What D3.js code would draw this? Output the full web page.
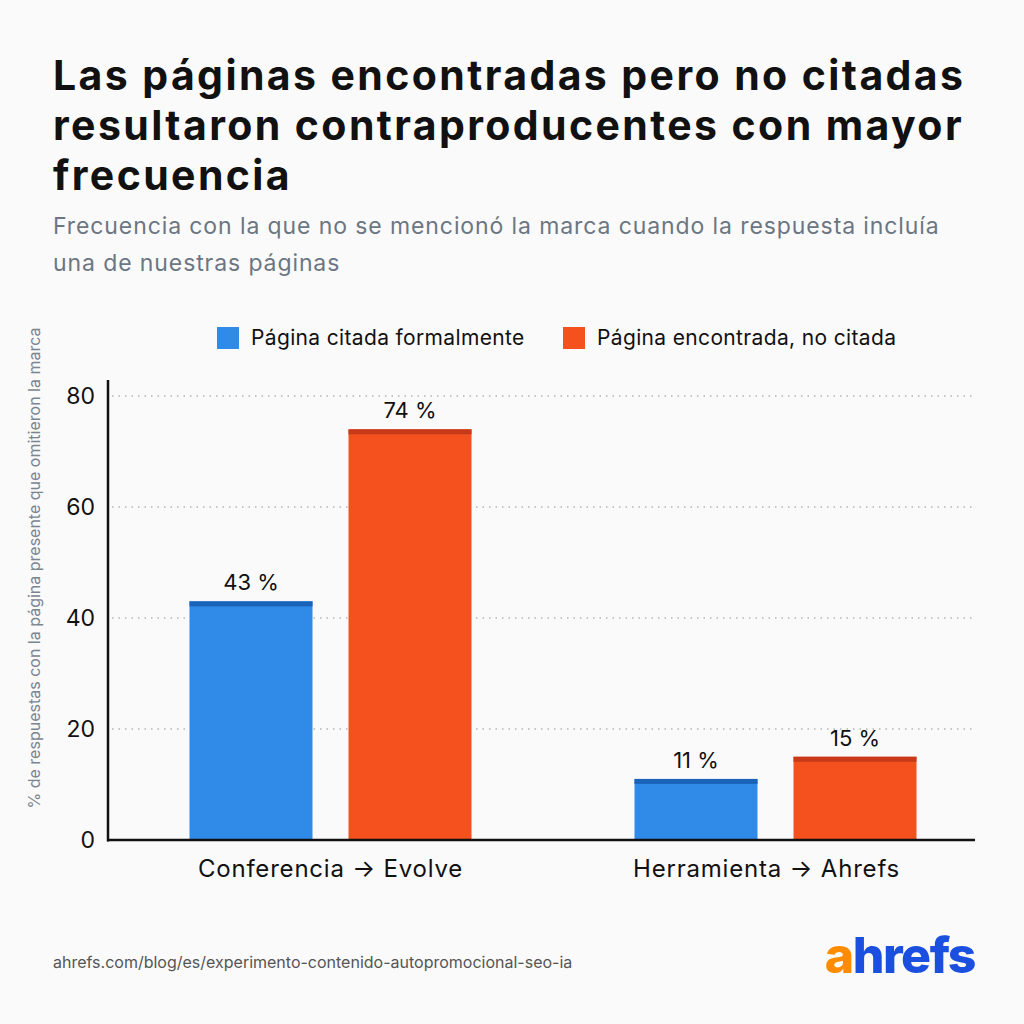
<!DOCTYPE html>
<html><head><meta charset="utf-8">
<script src="https://cdn.jsdelivr.net/npm/d3@7"></script>
<style>
html,body{margin:0;padding:0;background:#fafafa;}
svg{display:block;}
</style></head>
<body>
<svg id="chart" width="1024" height="1024"></svg>
<script>
const categories = ["Conferencia \u2192 Evolve", "Herramienta \u2192 Ahrefs"];
const seriesNames = ["Página citada formalmente", "Página encontrada, no citada"];
const citedValues = [43, 11];
const notCitedValues = [74, 15];
const yTicks = [0, 20, 40, 60, 80];
const colors = ["#2f8ae8", "#f4511e"];
const topColors = ["#1b63b8", "#c8391a"];

const svg = d3.select("#chart");
svg.append("rect").attr("width",1024).attr("height",1024).attr("fill","#fafafa");

const font = "Inter, 'Noto Sans', sans-serif";

// Title
const title = ["Las páginas encontradas pero no citadas","resultaron contraproducentes con mayor","frecuencia"];
svg.append("g").selectAll("text").data(title).join("text")
  .attr("x",53).attr("y",(d,i)=>90+i*50)
  .attr("font-family",font).attr("font-weight",700).attr("font-size",41)
  .attr("fill","#111").attr("letter-spacing","2.4")
  .text(d=>d);

const sub = ["Frecuencia con la que no se mencionó la marca cuando la respuesta incluía","una de nuestras páginas"];
svg.append("g").selectAll("text").data(sub).join("text")
  .attr("x",53).attr("y",(d,i)=>234+i*37)
  .attr("font-family",font).attr("font-size",23).attr("fill","#6b7682").attr("letter-spacing","0.9")
  .text(d=>d);

// Legend
const legX = [217, 563];
const leg = svg.append("g");
seriesNames.forEach((n,i)=>{
  leg.append("rect").attr("x",legX[i]).attr("y",327).attr("width",22).attr("height",22).attr("fill",colors[i]);
  leg.append("text").attr("x",legX[i]+34).attr("y",345).attr("font-family",font).attr("font-size",21).attr("letter-spacing","0.35").attr("fill","#111").text(n);
});

// Scales
const left = 108, right = 975, bottom = 840;
const x0 = d3.scaleBand().domain(categories).range([left, 998]).paddingInner(0).paddingOuter(0);
const y = d3.scaleLinear().domain([0,80]).range([bottom, 396]);

// Gridlines
svg.append("g").selectAll("line").data(yTicks.filter(d=>d>0)).join("line")
  .attr("x1",left+4).attr("x2",right).attr("y1",d=>y(d)).attr("y2",d=>y(d))
  .attr("stroke","#b5b5b5").attr("stroke-width",1.3).attr("stroke-dasharray","1.5,5");

// Y axis tick labels
const yAxis = d3.axisLeft(y).tickValues(yTicks).tickSize(0).tickPadding(13);
const ya = svg.append("g").attr("transform",`translate(${left},0)`).call(yAxis);
ya.select(".domain").remove();
ya.selectAll("text").attr("font-family",font).attr("font-size",23).attr("fill","#111");

// Bars
const barW = 123, gap = 36;
const data = categories.map((c,i)=>({cat:c, vals:[citedValues[i], notCitedValues[i]]}));
const groups = svg.append("g").selectAll("g").data(data).join("g")
  .attr("transform",d=>`translate(${x0(d.cat)+x0.bandwidth()/2},0)`);
groups.each(function(d){
  const g = d3.select(this);
  d.vals.forEach((v,i)=>{
    const bx = i===0 ? -(barW+gap/2) : gap/2;
    g.append("rect").attr("x",bx).attr("y",y(v)).attr("width",barW).attr("height",bottom-y(v)).attr("fill",colors[i]);
    g.append("rect").attr("x",bx).attr("y",y(v)).attr("width",barW).attr("height",5).attr("fill",topColors[i]);
    g.append("text").attr("x",bx+barW/2).attr("y",y(v)-11).attr("text-anchor","middle")
      .attr("font-family",font).attr("font-size",22).attr("fill","#111").text(v+" %");
  });
});

// X axis
const xAxis = d3.axisBottom(x0).tickSize(0).tickPadding(20);
const xa = svg.append("g").attr("transform",`translate(0,${bottom})`).call(xAxis);
xa.select(".domain").remove();
xa.selectAll("text").attr("font-family",font).attr("font-size",24).attr("letter-spacing","0.8").attr("fill","#111")
  .attr("dx",(d,i)=>i===1?-9:0);

// Axis lines
svg.append("line").attr("x1",left).attr("x2",left).attr("y1",380).attr("y2",bottom+1.5).attr("stroke","#111").attr("stroke-width",2.5);
svg.append("line").attr("x1",left-1).attr("x2",right).attr("y1",bottom).attr("y2",bottom).attr("stroke","#111").attr("stroke-width",2.5);

// Y axis title
svg.append("text").attr("transform","translate(40,568) rotate(-90)").attr("text-anchor","middle")
  .attr("font-family",font).attr("font-size",16).attr("fill","#7b8590")
  .text("% de respuestas con la página presente que omitieron la marca");

// Footer
svg.append("text").attr("x",53).attr("y",968).attr("font-family",font).attr("font-size",16).attr("fill","#555")
  .text("ahrefs.com/blog/es/experimento-contenido-autopromocional-seo-ia");
const logo = svg.append("text").attr("x",975).attr("y",973).attr("text-anchor","end")
  .attr("font-family",font).attr("font-weight",800).attr("font-size",50).attr("letter-spacing","-1.5");
logo.append("tspan").attr("fill","#ff8c00").text("a");
logo.append("tspan").attr("fill","#1a4fe0").text("hrefs");
</script>
</body></html>
